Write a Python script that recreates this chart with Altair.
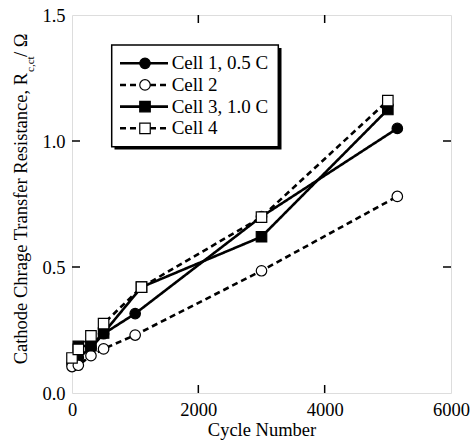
import altair as alt
import pandas as pd

# ---- data ----
series = ["Cell 1, 0.5 C", "Cell 2", "Cell 3, 1.0 C", "Cell 4"]
cycles_1 = [0, 100, 300, 500, 1000, 3000, 5150]
res_1 = [0.115, 0.14, 0.18, 0.235, 0.315, 0.70, 1.05]
cycles_2 = [0, 100, 300, 500, 1000, 3000, 5150]
res_2 = [0.105, 0.11, 0.148, 0.175, 0.23, 0.485, 0.78]
cycles_3 = [100, 300, 500, 1100, 3000, 5000]
res_3 = [0.185, 0.188, 0.238, 0.42, 0.62, 1.125]
cycles_4 = [0, 100, 300, 500, 1100, 3000, 5000]
res_4 = [0.139, 0.173, 0.227, 0.275, 0.42, 0.698, 1.16]
x_ticks = [0, 2000, 4000, 6000]
y_ticks = [0.0, 0.5, 1.0, 1.5]

rows = []
for i, (name, cx, ry) in enumerate(zip(series, [cycles_1, cycles_2, cycles_3, cycles_4],
                                       [res_1, res_2, res_3, res_4])):
    for c, r in zip(cx, ry):
        rows.append({"series": name, "order": i, "cycle": c, "R": r})
df = pd.DataFrame(rows)
leg = pd.DataFrame({"series": series, "order": list(range(len(series)))})

FONT = "Liberation Serif"
W, H = 379, 378
XD = [0, 6000]
YD = [0, 1.5]

shape_scale = alt.Scale(domain=series, range=["circle", "circle", "square", "square"])
fill_scale = alt.Scale(domain=series, range=["black", "white", "black", "white"])
dash_scale = alt.Scale(domain=series, range=[[1, 0], [6, 4], [1, 0], [6, 4]])

x_axis = alt.Axis(values=x_ticks, format="d", title="Cycle Number", grid=False, ticks=False,
                  domain=False, labelFlush=False, labelFont=FONT, labelFontSize=18.5,
                  labelColor="black", labelPadding=7, titleFont=FONT,
                  titleFontSize=18.5, titleFontWeight="normal", titleColor="black",
                  titlePadding=2, labelOverlap=False)
xscale = alt.Scale(domain=XD, nice=False, zero=False)
xenc = alt.X("cycle:Q", scale=xscale, axis=x_axis)
yenc = alt.Y("R:Q", scale=alt.Scale(domain=YD, nice=False, zero=False),
             axis=alt.Axis(values=y_ticks, format=".1f", title=None, grid=False, ticks=False,
                           domain=False, labelFlush=False, labelFont=FONT, labelFontSize=18.5,
                           labelColor="black", labelPadding=7, labelOverlap=False))

base = alt.Chart(df)
lines = base.mark_line(color="black", strokeWidth=2.6).encode(
    x=xenc, y=yenc,
    detail="series:N",
    strokeDash=alt.StrokeDash("series:N", scale=dash_scale, legend=None),
    order="cycle:Q",
)
points = base.mark_point(filled=False, stroke="black", strokeWidth=1.2, opacity=1, size=110).encode(
    x=xenc,
    y=alt.Y("R:Q", scale=alt.Scale(domain=YD, nice=False, zero=False), axis=None),
    shape=alt.Shape("series:N", scale=shape_scale, legend=None),
    fill=alt.Fill("series:N", scale=fill_scale, legend=None),
    order="order:Q",
)

# inward ticks
tick_x = pd.DataFrame({"cycle": x_ticks[1:-1]})
tick_y = pd.DataFrame({"v": y_ticks[1:-1]})
xs = alt.X("cycle:Q", scale=xscale, axis=x_axis)
ys = alt.Y("v:Q", scale=alt.Scale(domain=YD, nice=False, zero=False), axis=None)
tb = alt.Chart(tick_x).mark_rule(color="black", strokeWidth=1.5).encode(x=xs, y=alt.value(H), y2=alt.value(H - 8))
tt = alt.Chart(tick_x).mark_rule(color="black", strokeWidth=1.5).encode(x=xs, y=alt.value(0), y2=alt.value(8))
tl = alt.Chart(tick_y).mark_rule(color="black", strokeWidth=1.5).encode(y=ys, x=alt.value(0), x2=alt.value(8))
tr = alt.Chart(tick_y).mark_rule(color="black", strokeWidth=1.5).encode(y=ys, x=alt.value(W), x2=alt.value(W - 8))

# legend
one = pd.DataFrame({"k": [0]})
shadow = alt.Chart(one).mark_rect(fill="black").encode(
    x=alt.value(42.5), x2=alt.value(209.5), y=alt.value(33), y2=alt.value(134.5))
box = alt.Chart(one).mark_rect(fill="white", stroke="black", strokeWidth=1.5).encode(
    x=alt.value(39.7), x2=alt.value(206.3), y=alt.value(30), y2=alt.value(131.7))
ly = alt.Y("series:N", scale=alt.Scale(type="point", domain=series, range=[48.3, 113.3], padding=0), axis=None)
leg_lines = alt.Chart(leg).mark_rule(color="black", strokeWidth=2.6).encode(
    y=ly, x=alt.value(48), x2=alt.value(96),
    strokeDash=alt.StrokeDash("series:N", scale=dash_scale, legend=None))
leg_pts = alt.Chart(leg).mark_point(filled=False, stroke="black", strokeWidth=1.2, opacity=1, size=110).encode(
    y=ly, x=alt.value(73),
    shape=alt.Shape("series:N", scale=shape_scale, legend=None),
    fill=alt.Fill("series:N", scale=fill_scale, legend=None))
leg_txt = alt.Chart(leg).mark_text(font=FONT, fontSize=19, align="left", baseline="middle", color="black").encode(
    y=ly, x=alt.value(99.7), text="series:N")

# y-axis title with subscript
t_main = alt.Chart(one).mark_text(font=FONT, fontSize=18.5, angle=270, align="right", baseline="alphabetic",
                                  color="black", text="Cathode Chrage Transfer Resistance, R").encode(
    x=alt.value(-45.5), y=alt.value(58))
t_sub = alt.Chart(one).mark_text(font=FONT, fontSize=11, angle=270, align="left", baseline="alphabetic",
                                 color="black", text="c,ct").encode(
    x=alt.value(-38.5), y=alt.value(57))
t_unit = alt.Chart(one).mark_text(font=FONT, fontSize=18.5, angle=270, align="left", baseline="alphabetic",
                                  color="black", text=" / Ω").encode(
    x=alt.value(-45.5), y=alt.value(42))

chart = alt.layer(
    lines, points, tb, tt, tl, tr, shadow, box, leg_lines, leg_pts, leg_txt, t_main, t_sub, t_unit
).resolve_scale(
    y="independent"
).properties(
    width=W, height=H,
    autosize=alt.AutoSizeParams(type="none"),
    padding={"left": 72, "top": 15, "right": 21, "bottom": 50},
).configure_view(
    stroke="black", strokeWidth=1.6
).configure(background="white", font=FONT)

chart.save("out.html", embed_options={"renderer": "svg", "actions": False})
